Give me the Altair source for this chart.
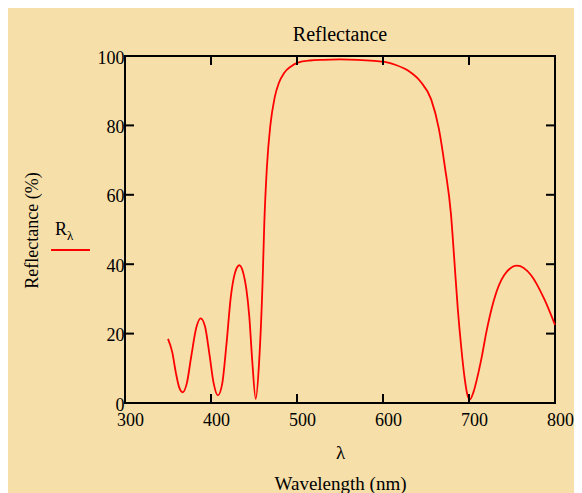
import altair as alt
import pandas as pd

# Reflectance spectrum
wavelength = [350, 355, 359, 363, 367, 372, 377, 383, 388, 393, 398, 403, 408,
              413, 418, 423, 428, 433, 438, 441, 444.5, 448, 452, 456, 460, 462,
              465, 469, 474, 479, 485, 493, 501, 515, 530, 550, 570, 590, 602,
              615, 629, 644, 656, 665, 672, 679, 683, 687, 691, 695, 698, 701,
              705, 710, 715, 720, 729, 741, 756, 772, 788, 800]
reflectance = [18.5, 14.6, 8.9, 4.5, 3.1, 5.8, 13.4, 21.8, 24.4, 22.1, 14.4, 5.8, 2.2,
               5.5, 17.0, 30.5, 37.6, 39.7, 37.0, 33.0, 25.0, 12.0, 1.2, 12.0, 35.0, 52.0,
               68.0, 80.0, 88.0, 92.3, 95.1, 97.0, 98.1, 98.7, 98.9, 99.0, 98.9, 98.6, 98.3,
               97.4, 95.8, 92.5, 87.5, 79.0, 68.0, 54.5, 41.0, 27.0, 16.0, 7.0, 2.5, 1.0,
               3.0, 7.7, 13.5, 20.2, 29.7, 36.9, 39.6, 36.9, 29.7, 22.5]

x_ticks = [300, 400, 500, 600, 700, 800]
y_ticks = [0, 20, 40, 60, 80, 100]

title_text = "Reflectance"
y_title = "Reflectance (%)"
x_title = ["λ", "Wavelength (nm)"]
legend_main = "R"
legend_sub = "λ"

FONT = "Liberation Serif"
BG = "#F6DFA9"
RED = "#FF0000"

df = pd.DataFrame({"wl": wavelength, "R": reflectance})
xs = alt.Scale(domain=[300, 800], nice=False, zero=False)
ys = alt.Scale(domain=[0, 100], nice=False, zero=False)

line = alt.Chart(df).mark_line(color=RED, strokeWidth=1.8, interpolate="monotone").encode(
    x=alt.X("wl:Q", scale=xs,
            axis=alt.Axis(values=x_ticks, title=x_title, ticks=False, domain=False, grid=False,
                          labelFont=FONT, labelFontSize=18, labelColor="black",
                          labelPadding=8, labelOffset=5, labelFlush=False, labelOverlap=False,
                          titleFont=FONT, titleFontSize=19, titleFontWeight="normal",
                          titleColor="black", titleBaseline="alphabetic", titleY=55,
                          titleLineHeight=31)),
    y=alt.Y("R:Q", scale=ys,
            axis=alt.Axis(values=y_ticks, title=y_title, ticks=False, domain=False, grid=False,
                          labelFont=FONT, labelFontSize=18, labelColor="black",
                          labelPadding=1, labelOffset=2, labelFlush=False, labelOverlap=False,
                          titleFont=FONT, titleFontSize=18, titleFontWeight="normal",
                          titleColor="black", titleBaseline="alphabetic",
                          titleX=-88, titleY=174, titleAngle=270, titleAlign="center")),
)

xt_df = pd.DataFrame({"wl": x_ticks * 2, "R": [0] * len(x_ticks) + [100] * len(x_ticks)})
yt_df = pd.DataFrame({"wl": [300] * len(y_ticks) + [800] * len(y_ticks), "R": y_ticks * 2})

xticks_layer = alt.Chart(xt_df).mark_tick(orient="vertical", size=18, thickness=2,
                                          color="black", opacity=1, clip=True).encode(
    x=alt.X("wl:Q", scale=xs), y=alt.Y("R:Q", scale=ys))
yticks_layer = alt.Chart(yt_df).mark_tick(orient="horizontal", size=18, thickness=2,
                                          color="black", opacity=1, clip=True).encode(
    x=alt.X("wl:Q", scale=xs), y=alt.Y("R:Q", scale=ys))

txt_df = pd.DataFrame({"main": [legend_main], "sub": [legend_sub], "title": [title_text]})
title_mark = alt.Chart(txt_df).mark_text(font=FONT, fontSize=20, color="black", align="center",
                                         baseline="alphabetic").encode(
    text="title:N", x=alt.value(215), y=alt.value(-15))
leg_main = alt.Chart(txt_df).mark_text(font=FONT, fontSize=18, color="black", align="left",
                                       baseline="alphabetic").encode(
    text="main:N", x=alt.value(-70), y=alt.value(179))
leg_sub = alt.Chart(txt_df).mark_text(font=FONT, fontSize=13, color="black", align="left",
                                      baseline="alphabetic").encode(
    text="sub:N", x=alt.value(-58), y=alt.value(184))
leg_line = alt.Chart(txt_df).mark_rule(color=RED, strokeWidth=1.8).encode(
    x=alt.value(-74), x2=alt.value(-35), y=alt.value(194))

chart = alt.layer(line, xticks_layer, yticks_layer, title_mark, leg_main, leg_sub,
                  leg_line).properties(
    width=430, height=347,
    background=BG,
    autosize=alt.AutoSizeParams(type="none"),
    padding={"left": 117, "top": 48, "right": 19, "bottom": 90},
).configure_view(stroke="black", strokeWidth=2)

chart.save("out.html", embed_options={"renderer": "svg", "actions": False})
